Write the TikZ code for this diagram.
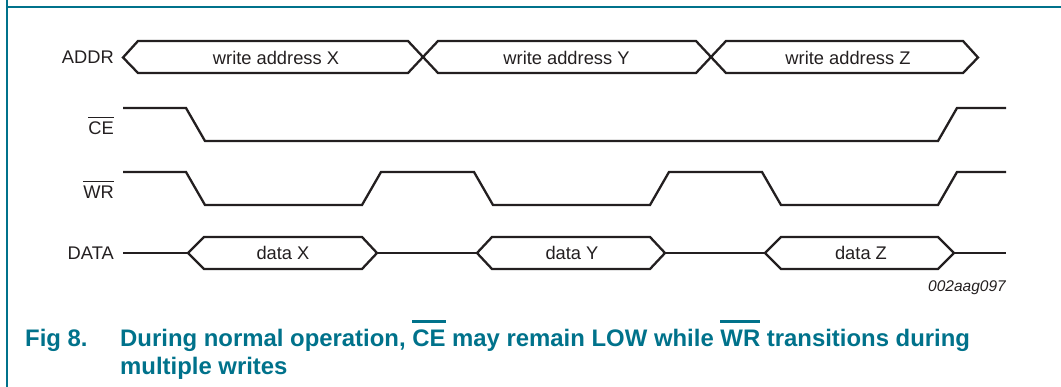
\documentclass[tikz,border=0pt]{standalone}
\usepackage{fontspec}
\setmainfont{Liberation Sans}
\usepackage{graphicx}
\definecolor{nxp}{RGB}{0,114,139}
\definecolor{ink}{RGB}{35,31,32}
\newlength\obw
\newcommand{\obar}[3]{\settowidth{\obw}{#1}\rlap{\rule[#2]{\obw}{#3}}#1}
\begin{document}
\begin{tikzpicture}[x=1pt,y=-1pt,
  wave/.style={draw=ink, line width=2.3pt, line join=miter},
  frameline/.style={draw=nxp, line width=1.5pt},
  lbl/.style={anchor=base east, inner sep=0pt, text=ink, font=\fontsize{18.3}{21}\selectfont},
  bustxt/.style={anchor=base, inner sep=0pt, text=ink, font=\fontsize{18.3}{21}\selectfont},
  codetxt/.style={anchor=base east, inner sep=0pt, text=ink, font=\fontsize{15.5}{18}\selectfont\itshape},
  capt/.style={anchor=base west, inner sep=0pt, text=nxp, font=\fontsize{23.9}{28}\selectfont\bfseries}]
\useasboundingbox (0,0) rectangle (1061,387);
% frame
\draw[frameline] (7,0) -- (7,387);
\draw[frameline] (7,7) -- (1061,7);
% labels
\node[lbl] (laddr) at (114,64) {ADDR};
\node[lbl] (lce) at (114,134.5) {\obar{CE}{16.5pt}{1.2pt}};
\node[lbl] (lwr) at (114,198.5) {\obar{WR}{16.5pt}{1.2pt}};
\node[lbl] (ldata) at (114,259.5) {DATA};
% ADDR bus
\draw[wave] (123,57.5) -- (138,41) -- (408,41) -- (438,73) -- (696,73) -- (726,41)
  -- (963,41) -- (978,57.5) -- (963,73) -- (726,73) -- (696,41) -- (438,41)
  -- (408,73) -- (138,73) -- cycle;
\node[bustxt] (ax) at (276,64.3) {write address X};
\node[bustxt] (ay) at (566.5,64.3) {write address Y};
\node[bustxt] (az) at (848,64.3) {write address Z};
% CE
\draw[wave] (123,108) -- (186,108) -- (205,141) -- (938,141) -- (957,108) -- (1006,108);
% WR
\draw[wave] (123,172) -- (186,172) -- (205,205) -- (362,205) -- (381,172) -- (474,172)
  -- (493,205) -- (650,205) -- (669,172) -- (762,172) -- (781,205) -- (938,205)
  -- (957,172) -- (1006,172);
% DATA
\draw[wave] (123,253) -- (188,253);
\draw[wave] (188,253) -- (204,237) -- (362,237) -- (377,253) -- (362,269) -- (204,269) -- cycle;
\draw[wave] (377,253) -- (477,253);
\draw[wave] (477,253) -- (492,237) -- (650,237) -- (665,253) -- (650,269) -- (492,269) -- cycle;
\draw[wave] (665,253) -- (765,253);
\draw[wave] (765,253) -- (781,237) -- (938,237) -- (954,253) -- (938,269) -- (781,269) -- cycle;
\draw[wave] (954,253) -- (1006,253);
\node[bustxt] (dx) at (283,259.5) {data X};
\node[bustxt] (dy) at (572,259.5) {data Y};
\node[bustxt] (dz) at (861,259.5) {data Z};
\node[codetxt] (id) at (1006,291.5) {002aag097};
% caption
\node[capt] (fig) at (25,347) {Fig 8.};
\node[capt] (c1) at (120,347) {During normal operation, \obar{CE}{24pt}{3pt} may remain LOW while \obar{WR}{24pt}{3pt} transitions during};
\node[capt] (c2) at (120,375) {multiple writes};
\end{tikzpicture}
\end{document}
